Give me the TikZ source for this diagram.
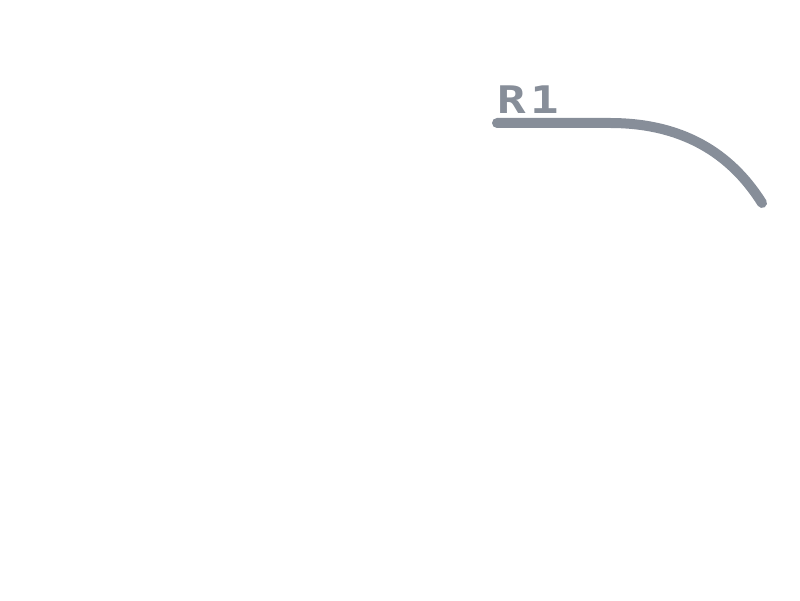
\documentclass[tikz,border=0pt]{standalone}
\usepackage{fontspec}
\newfontfamily\pixfont[FakeStretch=1.25,LetterSpace=12]{DejaVu Sans Mono Bold}
\definecolor{wire}{RGB}{135,142,153}
\begin{document}
\begin{tikzpicture}[x=1pt,y=1pt,
  wirestyle/.style={draw=wire,line width=10pt,line cap=round},
  lbl/.style={text=wire,font=\pixfont\fontsize{38}{38}\selectfont,inner sep=0pt,anchor=base west}]
\useasboundingbox (0,0) rectangle (800,600);
\node[lbl] (r1) at (497,486) {R1};
\coordinate (a) at (497,477);
\coordinate (b) at (610,477);
\coordinate (c) at (762,397);
\draw[wirestyle] (a) -- (b) .. controls (690,477) and (735,440) .. (c);
\end{tikzpicture}
\end{document}
